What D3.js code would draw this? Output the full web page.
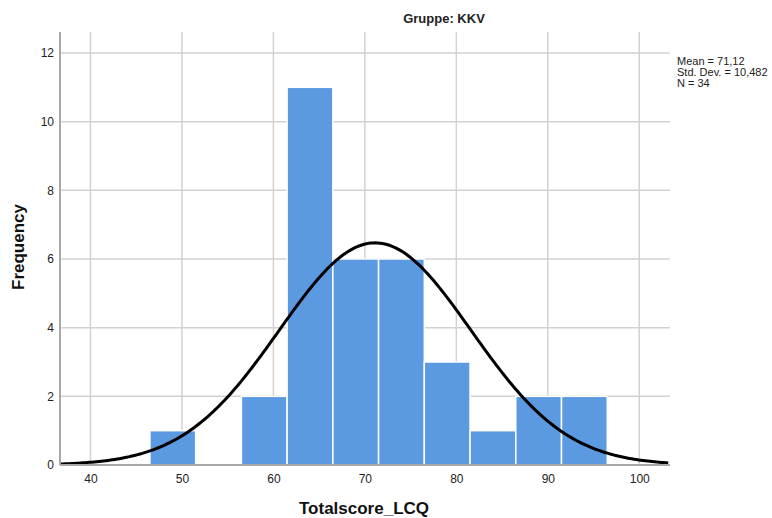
<!DOCTYPE html>
<html lang="de">
<head>
  <meta charset="UTF-8">
  <title>Gruppe: KKV</title>
  <script src="https://d3js.org/d3.v7.min.js"></script>
  <style>
    body { margin: 0; background: #fff; font-family: Arial, "Liberation Sans", sans-serif; }
    .grid line { stroke: #d2d2d2; stroke-width: 1.5px; }
    .tick text { font-size: 12px; fill: #222; }
  </style>
</head>
<body>
  <svg id="chart" width="772" height="518"></svg>
  <script>
    // histogram bins (lower edge) and counts
    const binStarts = [46.5, 51.5, 56.5, 61.5, 66.5, 71.5, 76.5, 81.5, 86.5, 91.5];
    const binWidth = 5;
    const counts = [1, 0, 2, 11, 6, 6, 3, 1, 2, 2];
    const xTicks = [40, 50, 60, 70, 80, 90, 100];
    const yTicks = [0, 2, 4, 6, 8, 10, 12];
    const stats = ["Mean = 71,12", "Std. Dev. = 10,482", "N = 34"];
    const mean = 71.12, sd = 10.482, n = 34;

    const svg = d3.select("#chart");
    const plotL = 60, plotR = 670, plotT = 32, plotB = 465;

    const x = d3.scaleLinear().domain([36.67, 103.36]).range([plotL, plotR]);
    const y = d3.scaleLinear().domain([0, 12]).range([plotB, 53]);

    // grid
    const grid = svg.append("g").attr("class", "grid");
    grid.selectAll(".v").data(xTicks).enter().append("line")
      .attr("x1", d => x(d)).attr("x2", d => x(d))
      .attr("y1", plotT).attr("y2", plotB);
    grid.selectAll(".h").data(yTicks).enter().append("line")
      .attr("x1", plotL).attr("x2", plotR)
      .attr("y1", d => y(d)).attr("y2", d => y(d));

    // bars
    const bins = counts.map((c, i) => ({ x0: binStarts[i], c })).filter(d => d.c > 0);
    svg.append("g").selectAll("rect")
      .data(bins)
      .enter().append("rect")
      .attr("x", d => x(d.x0))
      .attr("width", d => x(d.x0 + binWidth) - x(d.x0))
      .attr("y", d => y(d.c))
      .attr("height", d => y(0) - y(d.c))
      .attr("fill", "#5b99e0")
      .attr("stroke", "#fff")
      .attr("stroke-width", 1.5);

    // normal curve
    const curvePts = d3.range(x.domain()[0], x.domain()[1] + 0.01, 0.25).map(v => {
      const pdf = Math.exp(-0.5 * Math.pow((v - mean) / sd, 2)) / (sd * Math.sqrt(2 * Math.PI));
      return [v, n * binWidth * pdf];
    });
    svg.append("path")
      .datum(curvePts)
      .attr("fill", "none")
      .attr("stroke", "#000")
      .attr("stroke-width", 3)
      .attr("d", d3.line().x(d => x(d[0])).y(d => y(d[1])));

    // axes
    const xAxis = svg.append("g").attr("transform", `translate(0,${plotB})`)
      .call(d3.axisBottom(x).tickValues(xTicks).tickSize(0).tickPadding(9));
    xAxis.select(".domain").remove();
    const yAxis = svg.append("g").attr("transform", `translate(${plotL},0)`)
      .call(d3.axisLeft(y).tickValues(yTicks).tickSize(0).tickPadding(6));
    yAxis.select(".domain").remove();
    svg.selectAll(".tick text").attr("font-family", "Arial, 'Liberation Sans', sans-serif");

    svg.append("line").attr("x1", plotL).attr("x2", plotL).attr("y1", plotT).attr("y2", plotB)
      .attr("stroke", "#a8a8a8").attr("stroke-width", 2);
    svg.append("line").attr("x1", plotL).attr("x2", plotR).attr("y1", plotB).attr("y2", plotB)
      .attr("stroke", "#a8a8a8").attr("stroke-width", 2);

    // titles
    svg.append("text").attr("x", 444).attr("y", 23).attr("text-anchor", "middle")
      .attr("font-size", 13).attr("font-weight", "bold").attr("fill", "#222")
      .text("Gruppe: KKV");
    svg.append("text").attr("transform", "translate(24,247) rotate(-90)").attr("text-anchor", "middle")
      .attr("font-size", 17).attr("font-weight", "bold").attr("fill", "#111")
      .text("Frequency");
    svg.append("text").attr("x", 364).attr("y", 514).attr("text-anchor", "middle")
      .attr("font-size", 17).attr("font-weight", "bold").attr("fill", "#111")
      .text("Totalscore_LCQ");

    // stats box
    svg.append("g").selectAll("text").data(stats).enter().append("text")
      .attr("x", 677).attr("y", (d, i) => 65 + i * 11)
      .attr("font-size", 11).attr("fill", "#222")
      .text(d => d);
  </script>
</body>
</html>
